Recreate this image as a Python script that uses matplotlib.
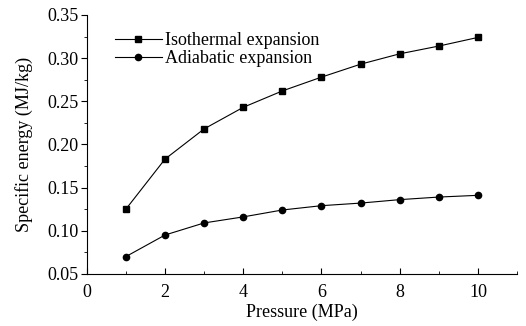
import matplotlib
matplotlib.use("Agg")
import matplotlib.pyplot as plt
from matplotlib.ticker import MultipleLocator

pressure = [1, 2, 3, 4, 5, 6, 7, 8, 9, 10]
isothermal = [0.125, 0.183, 0.218, 0.243, 0.262, 0.278, 0.293, 0.305, 0.314, 0.324]
adiabatic = [0.070, 0.095, 0.109, 0.116, 0.124, 0.129, 0.132, 0.136, 0.139, 0.141]

plt.rcParams['font.family'] = ['Liberation Serif', 'DejaVu Serif']
fig = plt.figure(figsize=(5.26, 3.26), dpi=100)
ax = fig.add_axes([0.165, 0.16, 0.818, 0.794])

ax.plot(pressure, isothermal, color='black', lw=0.8, marker='s', ms=4.5,
        label='Isothermal expansion')
ax.plot(pressure, adiabatic, color='black', lw=0.8, marker='o', ms=4.5,
        label='Adiabatic expansion')

ax.set_xlim(0, 11)
ax.set_ylim(0.05, 0.35)
ax.xaxis.set_minor_locator(MultipleLocator(1))
ax.yaxis.set_minor_locator(MultipleLocator(0.025))
ax.set_xticks([0, 2, 4, 6, 8, 10])
ax.set_yticks([0.05, 0.10, 0.15, 0.20, 0.25, 0.30, 0.35])
ax.set_yticklabels(['0.05', '0.10', '0.15', '0.20', '0.25', '0.30', '0.35'])
ax.spines['top'].set_visible(False)
ax.spines['right'].set_visible(False)
ax.tick_params(axis='both', labelsize=13, direction='out', width=0.8)
ax.tick_params(axis='x', which='both', direction='in', pad=7)
ax.tick_params(axis='y', pad=2)
ax.tick_params(which='major', length=4)
ax.tick_params(which='minor', length=2)

ax.set_xlabel('Pressure (MPa)', fontsize=13, labelpad=2)
ax.set_ylabel('Specific energy (MJ/kg)', fontsize=13, labelpad=10)

ax.legend(loc='upper left', bbox_to_anchor=(0.04, 0.975), frameon=False,
          fontsize=13, handlelength=2.6, handletextpad=0.2, labelspacing=0.05,
          borderaxespad=0.2)

fig.savefig('out.png', dpi=100)
